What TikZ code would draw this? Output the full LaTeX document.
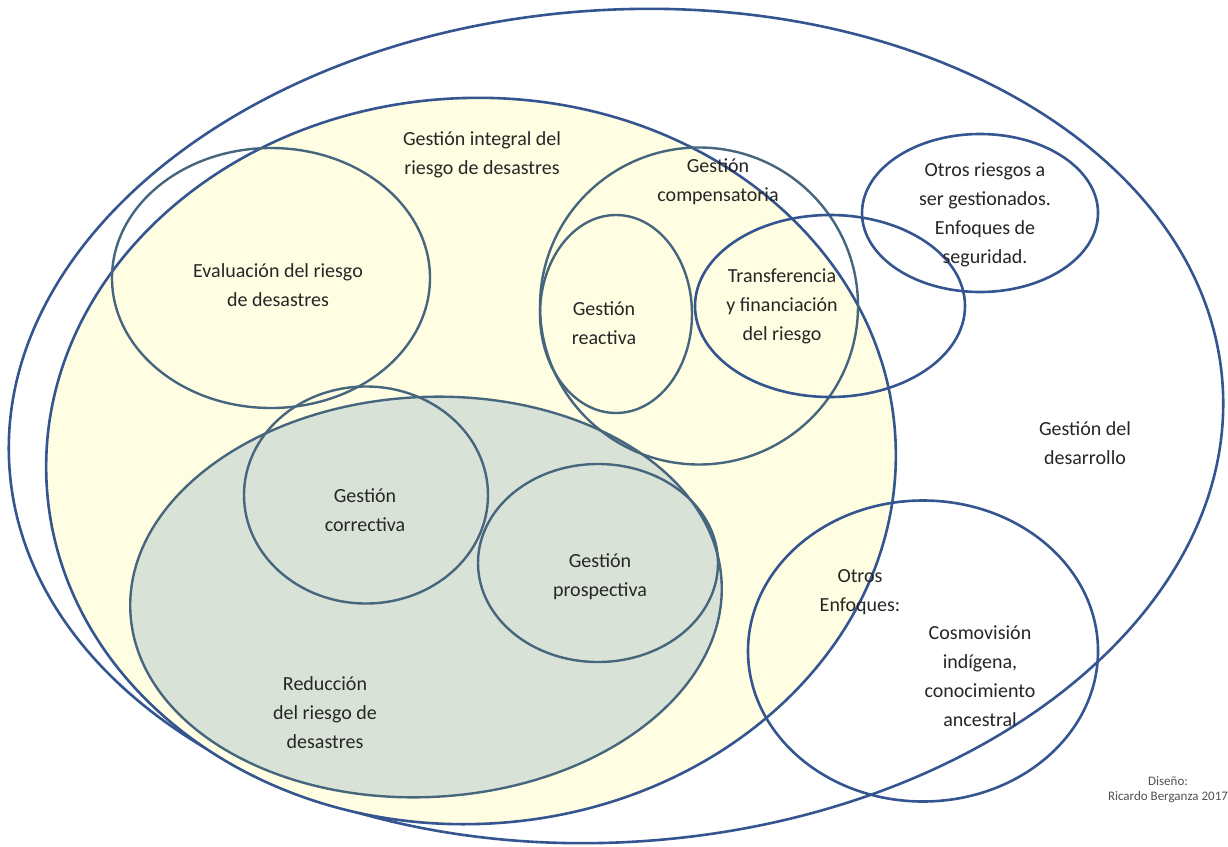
\documentclass[tikz,border=0pt]{standalone}
\usepackage{fontspec}
\setmainfont{Carlito}
\usetikzlibrary{shapes.geometric}
\definecolor{blueline}{HTML}{34558F}
\definecolor{grayline}{HTML}{46667E}
\definecolor{cream}{HTML}{FFFDE2}
\definecolor{sage}{HTML}{D9E2D6}
\definecolor{txt}{HTML}{262626}
\tikzset{
  ring/.style={ellipse, draw=blueline, line width=2.6pt, inner sep=0pt},
  ringg/.style={ellipse, draw=grayline, line width=2.4pt, inner sep=0pt},
  lbl/.style={align=center, text=txt, font=\fontsize{20}{29}\selectfont},
  small/.style={align=center, text=txt!80, font=\fontsize{13}{15}\selectfont}
}
\begin{document}
\begin{tikzpicture}[x=1pt,y=-1pt]
\useasboundingbox (0,0) rectangle (1228,846);
\fill[white] (0,0) rectangle (1228,846);
% outer
\node[ring, fill=white, minimum width=1216pt, minimum height=832pt, rotate=4] (des) at (616,426) {};
% yellow
\node[ring, fill=cream, minimum width=850pt, minimum height=726pt, rotate=3] (gir) at (471,461) {};
% green
\node[ringg, fill=sage, minimum width=592pt, minimum height=400pt, rotate=3] (red) at (426,597) {};
% circles
\node[ringg, minimum width=318pt, minimum height=260pt] (eva) at (271,278) {};
\node[ringg, minimum width=318pt, minimum height=317pt] (com) at (699,306) {};
\node[ringg, minimum width=152pt, minimum height=198pt] (rea) at (616,314) {};
\node[ring, minimum width=270pt, minimum height=182pt] (tra) at (830,306) {};
\node[ring, minimum width=236pt, minimum height=158pt] (otr) at (980,213) {};
\node[ringg, minimum width=244pt, minimum height=217pt] (cor) at (366,495) {};
\node[ringg, minimum width=240pt, minimum height=198pt] (pro) at (598,563) {};
\node[ring, minimum width=350pt, minimum height=301pt] (enf) at (923,651) {};
% labels
\node[lbl] (t1) at (482,155) {Gestión integral del\\riesgo de desastres};
\node[lbl] (t2) at (278,285) {Evaluación del riesgo\\de desastres};
\node[lbl] (t3) at (718,182) {Gestión\\compensatoria};
\node[lbl] (t4) at (604,323) {Gestión\\reactiva};
\node[lbl] (t5) at (782,306) {Transferencia\\y financiación\\del riesgo};
\node[lbl] (t6) at (985,215) {Otros riesgos a\\ser gestionados.\\Enfoques de\\seguridad.};
\node[lbl] (t7) at (1085,443) {Gestión del\\desarrollo};
\node[lbl] (t8) at (365,510) {Gestión\\correctiva};
\node[lbl] (t9) at (600,577) {Gestión\\prospectiva};
\node[lbl] (t10) at (325,713) {Reducción\\del riesgo de\\desastres};
\node[lbl] (t11) at (860,592) {Otros\\Enfoques:};
\node[lbl] (t12) at (980,676) {Cosmovisión\\indígena,\\conocimiento\\ancestral};
\node[small] (t13) at (1168,790) {Diseño:\\Ricardo Berganza 2017};
\end{tikzpicture}
\end{document}
